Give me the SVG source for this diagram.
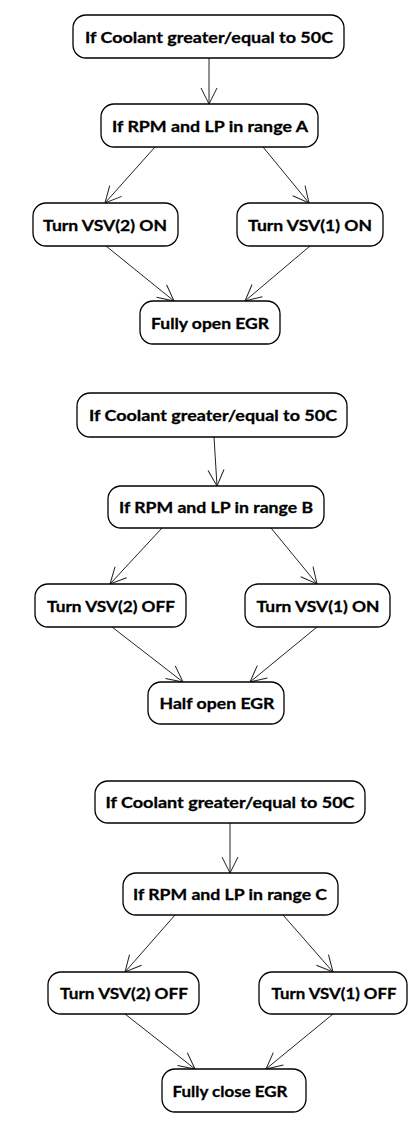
<svg xmlns="http://www.w3.org/2000/svg" width="409" height="1121" viewBox="0 0 409 1121">
<style>
.box{fill:#fff;stroke:#000;stroke-width:1.3}
.lbl{font-family:Lato,"Liberation Sans",sans-serif;font-weight:bold;font-size:16px;fill:#000;stroke:#000;stroke-width:0.3;text-anchor:middle}
.con line{stroke:#222;stroke-width:1;marker-end:url(#arr)}
</style>
<defs>
<marker id="arr" viewBox="-17 -9 18 18" refX="0" refY="0" markerWidth="18" markerHeight="18" markerUnits="userSpaceOnUse" orient="auto">
<path d="M-16,-8 L0,0 L-16,8" fill="none" stroke="#222" stroke-width="1"/>
</marker>
</defs>
<rect width="409" height="1121" fill="#fff"/>
<g id="connectors" class="con">
<line x1="209" y1="58" x2="209" y2="104"/>
<line x1="155" y1="147" x2="105" y2="203"/>
<line x1="263" y1="147" x2="309" y2="203"/>
<line x1="106" y1="246" x2="174" y2="301"/>
<line x1="310" y1="246" x2="245" y2="301"/>
<line x1="214" y1="437" x2="217" y2="486"/>
<line x1="162" y1="528" x2="110" y2="584"/>
<line x1="271" y1="528" x2="317" y2="584"/>
<line x1="112" y1="627" x2="183" y2="682"/>
<line x1="317" y1="627" x2="250" y2="682"/>
<line x1="230" y1="823" x2="230" y2="873"/>
<line x1="175" y1="915" x2="125" y2="972"/>
<line x1="283" y1="915" x2="333" y2="972"/>
<line x1="125" y1="1014" x2="195" y2="1069"/>
<line x1="333" y1="1014" x2="266" y2="1069"/>
</g>
<g id="c1"><rect class="box" x="73" y="15" width="271" height="43" rx="13"/><text class="lbl" x="209" y="42.5" textLength="248" lengthAdjust="spacingAndGlyphs">If Coolant greater/equal to 50C</text></g>
<g id="r1"><rect class="box" x="101" y="104" width="217" height="43" rx="13"/><text class="lbl" x="210" y="131.5" textLength="196" lengthAdjust="spacingAndGlyphs">If RPM and LP in range A</text></g>
<g id="l1"><rect class="box" x="33" y="203" width="145" height="43" rx="13"/><text class="lbl" x="105" y="230.5" textLength="124" lengthAdjust="spacingAndGlyphs">Turn VSV(2) ON</text></g>
<g id="rt1"><rect class="box" x="237" y="203" width="146" height="43" rx="13"/><text class="lbl" x="310" y="230.5" textLength="124" lengthAdjust="spacingAndGlyphs">Turn VSV(1) ON</text></g>
<g id="e1"><rect class="box" x="140" y="301" width="140" height="43" rx="13"/><text class="lbl" x="210" y="328.5" textLength="118" lengthAdjust="spacingAndGlyphs">Fully open EGR</text></g>
<g id="c2"><rect class="box" x="77" y="393" width="270" height="44" rx="13"/><text class="lbl" x="213" y="421" textLength="248" lengthAdjust="spacingAndGlyphs">If Coolant greater/equal to 50C</text></g>
<g id="r2"><rect class="box" x="108" y="486" width="216" height="42" rx="13"/><text class="lbl" x="216" y="513" textLength="194" lengthAdjust="spacingAndGlyphs">If RPM and LP in range B</text></g>
<g id="l2"><rect class="box" x="35" y="584" width="151" height="43" rx="13"/><text class="lbl" x="111" y="611.5" textLength="128" lengthAdjust="spacingAndGlyphs">Turn VSV(2) OFF</text></g>
<g id="rt2"><rect class="box" x="245" y="584" width="145" height="43" rx="13"/><text class="lbl" x="318" y="611.5" textLength="123" lengthAdjust="spacingAndGlyphs">Turn VSV(1) ON</text></g>
<g id="e2"><rect class="box" x="148" y="682" width="136" height="42" rx="13"/><text class="lbl" x="217" y="709" textLength="115" lengthAdjust="spacingAndGlyphs">Half open EGR</text></g>
<g id="c3"><rect class="box" x="95" y="781" width="270" height="42" rx="13"/><text class="lbl" x="230" y="808" textLength="249" lengthAdjust="spacingAndGlyphs">If Coolant greater/equal to 50C</text></g>
<g id="r3"><rect class="box" x="123" y="873" width="215" height="42" rx="13"/><text class="lbl" x="230" y="900" textLength="194" lengthAdjust="spacingAndGlyphs">If RPM and LP in range C</text></g>
<g id="l3"><rect class="box" x="48" y="972" width="151" height="42" rx="13"/><text class="lbl" x="124" y="999" textLength="128" lengthAdjust="spacingAndGlyphs">Turn VSV(2) OFF</text></g>
<g id="rt3"><rect class="box" x="259" y="972" width="148" height="42" rx="13"/><text class="lbl" x="334" y="999" textLength="125" lengthAdjust="spacingAndGlyphs">Turn VSV(1) OFF</text></g>
<g id="e3"><rect class="box" x="162" y="1069" width="144" height="43" rx="13"/><text class="lbl" x="230" y="1096.5" textLength="115" lengthAdjust="spacingAndGlyphs">Fully close EGR</text></g>
</svg>
